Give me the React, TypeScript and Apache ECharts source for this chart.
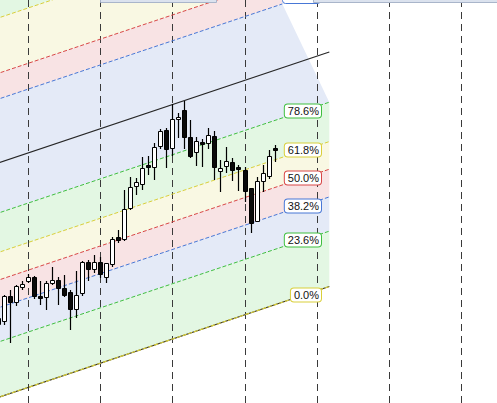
import React, { useEffect, useRef } from 'react';
import * as echarts from 'echarts';

// ---- DATA ----
const opens = [107.9, 108.25, 110.67, 110.13, 111.63, 112.23, 112.57, 110.73, 110.57, 112.0, 112.35, 111.5, 111.1, 109.37, 110.97, 114.07, 113.37, 114.07, 112.63, 113.87, 116.57, 116.45, 119.55, 121.7, 121.87, 123.8, 123.57, 125.7, 127.3, 125.47, 128.37, 129.3, 126.57, 125.07, 126.15, 126.0, 126.7, 123.23, 123.73, 124.07, 123.6, 123.35, 121.47, 118.23, 122.2, 122.73, 125.5];
const closes = [108.5, 110.7, 110.13, 111.7, 111.87, 112.57, 110.7, 110.55, 111.97, 112.35, 111.5, 110.8, 109.37, 110.85, 114.07, 113.37, 114.07, 112.9, 113.97, 116.37, 116.35, 119.37, 121.57, 122.15, 123.47, 123.57, 125.57, 127.2, 125.37, 128.37, 128.57, 126.57, 124.73, 126.23, 125.87, 126.77, 123.57, 123.47, 124.17, 123.35, 123.43, 121.23, 117.97, 122.25, 122.97, 124.67, 125.33];
const lows = [107.7, 107.8, 106.03, 109.7, 111.3, 112.0, 110.45, 109.8, 109.3, 111.8, 109.85, 110.6, 107.3, 108.5, 110.65, 112.2, 113.0, 112.5, 111.97, 113.63, 116.03, 116.2, 119.35, 120.8, 121.3, 122.8, 122.3, 125.43, 123.5, 124.7, 126.5, 125.4, 124.5, 123.73, 123.6, 125.4, 122.3, 121.1, 123.0, 122.2, 121.2, 120.1, 117.05, 118.15, 121.13, 122.4, 124.13];
const highs = [108.7, 110.85, 111.3, 111.8, 112.2, 112.95, 112.7, 112.2, 112.25, 113.65, 112.6, 112.8, 111.3, 113.2, 114.25, 114.3, 114.8, 114.6, 114.05, 116.57, 117.35, 121.3, 122.6, 122.55, 124.6, 124.75, 125.97, 127.43, 127.5, 129.9, 128.97, 130.25, 128.3, 126.6, 126.4, 127.47, 127.2, 124.3, 125.6, 124.5, 123.85, 123.6, 121.55, 122.6, 123.8, 125.35, 125.8];

// Fibonacci channel: base line through two [candle index, price] points, channel height in price
const channelBase = [[-10, 98.54], [55, 111.65]];
const channelHeight = 23.45;
const fibLevels = [0, 23.6, 38.2, 50, 61.8, 78.6, 100, 127.2, 138.2, 161.8];
const fibLineEnds = [55, 55, 55, 55, 55, 55, 55, 47.2, 47.2, 47.2];
const fibLabelShown = [true, true, true, true, true, true, false, true, false, false];
const bandLow = [0, 23.6, 38.2, 50, 61.8, 78.6, 127.2, 138.2, 161.8];
const bandHigh = [23.6, 38.2, 50, 61.8, 78.6, 127.2, 138.2, 161.8, 200];
const bandLowEnd = [55, 55, 55, 55, 55, 55, 47.2, 47.2, 47.2];
const bandHighEnd = [55, 55, 55, 55, 55, 47.2, 47.2, 47.2, 47.2];
const gridLines = [5, 17, 29, 41, 53, 65, 77];

// ---- STYLE ----
const X_MIN = 0.299;
const X_MAX = 82.86;
const Y_MIN = 100;
const Y_MAX = 140.3;
const LABEL_RIGHT_V = 53.55;
const LABEL_CENTER_V = 50.6;

const GREEN = '#3fbf3f';
const BLUE = '#4777d6';
const RED = '#d84646';
const YELLOW = '#d9cf3a';
const fills: Record<string, string> = {
  green: '#e3f7e3',
  blue: '#e4eaf7',
  pink: '#f8e3e4',
  yellow: '#f9f8e3',
};
const bandFill = (lo: number) => {
  if (lo === 0 || lo === 61.8 || lo === 161.8) return fills.green;
  if (lo === 23.6 || lo === 78.6) return fills.blue;
  if (lo === 38.2 || lo === 127.2) return fills.pink;
  return fills.yellow;
};
const levelColor = (lv: number) => {
  if (lv === 23.6 || lv === 78.6) return GREEN;
  if (lv === 38.2 || lv === 127.2) return BLUE;
  if (lv === 50 || lv === 138.2) return RED;
  if (lv === 100) return '#222';
  return YELLOW;
};

const slope = (channelBase[1][1] - channelBase[0][1]) / (channelBase[1][0] - channelBase[0][0]);
const priceAt = (v: number, lv: number) =>
  channelBase[0][1] + (v - channelBase[0][0]) * slope + (lv / 100) * channelHeight;
const V0 = channelBase[0][0];

export default function App() {
  const ref = useRef<HTMLDivElement>(null);
  useEffect(() => {
    const chart = echarts.init(ref.current!, undefined, { renderer: 'svg' });
    const option: any = {
      animation: false,
      grid: { left: 0, right: 0, top: 0, bottom: 0 },
      xAxis: { type: 'value', min: X_MIN, max: X_MAX, show: false },
      yAxis: { type: 'value', min: Y_MIN, max: Y_MAX, show: false },
      graphic: [
        { type: 'rect', shape: { x: 100.5, y: -5, width: 116, height: 7.5 }, style: { fill: '#dbe2ee', stroke: '#a9b5ca', lineWidth: 1 }, z: 100 },
        { type: 'rect', shape: { x: 313.5, y: -5, width: 190, height: 7.5 }, style: { fill: '#dbe2ee', stroke: '#a9b5ca', lineWidth: 1 }, z: 100 },
      ],
      series: [
        {
          type: 'custom',
          z: 1,
          silent: true,
          data: bandLow.map((lo, i) => [bandLowEnd[i], lo]),
          renderItem: (params: any, api: any) => {
            const i = params.dataIndex;
            const lo = bandLow[i];
            const hi = bandHigh[i];
            const pts = [
              api.coord([V0, priceAt(V0, lo)]),
              api.coord([bandLowEnd[i], priceAt(bandLowEnd[i], lo)]),
              api.coord([bandHighEnd[i], priceAt(bandHighEnd[i], hi)]),
              api.coord([V0, priceAt(V0, hi)]),
            ];
            return { type: 'polygon', shape: { points: pts }, style: { fill: bandFill(lo), stroke: null } };
          },
        },
        {
          type: 'custom',
          z: 2,
          silent: true,
          data: gridLines.map((v) => [v, 120]),
          renderItem: (params: any, api: any) => {
            const cs = params.coordSys;
            const x = Math.floor(api.coord([api.value(0), 120])[0]) + 0.5;
            return {
              type: 'line',
              shape: { x1: x, y1: cs.y, x2: x, y2: cs.y + cs.height },
              style: { stroke: '#3a3a3a', lineWidth: 1, lineDash: [7, 5] },
            };
          },
        },
        {
          type: 'custom',
          z: 3,
          silent: true,
          data: fibLevels.map((lv, i) => [fibLineEnds[i], lv]),
          renderItem: (params: any, api: any) => {
            const i = params.dataIndex;
            const lv = fibLevels[i];
            const a = api.coord([V0, priceAt(V0, lv)]);
            const b = api.coord([fibLineEnds[i], priceAt(fibLineEnds[i], lv)]);
            const children: any[] = [];
            if (lv === 0) {
              children.push({ type: 'line', shape: { x1: a[0], y1: a[1], x2: b[0], y2: b[1] }, style: { stroke: '#3b3520', lineWidth: 1.2 } });
              children.push({ type: 'line', shape: { x1: a[0], y1: a[1], x2: b[0], y2: b[1] }, style: { stroke: YELLOW, lineWidth: 1.2, lineDash: [4, 2] } });
            } else if (lv === 100) {
              children.push({ type: 'line', shape: { x1: a[0], y1: a[1], x2: b[0], y2: b[1] }, style: { stroke: '#262626', lineWidth: 1.2 } });
            } else {
              children.push({ type: 'line', shape: { x1: a[0], y1: a[1], x2: b[0], y2: b[1] }, style: { stroke: levelColor(lv), lineWidth: 1, lineDash: [4, 2] } });
            }
            return { type: 'group', children };
          },
        },
        {
          type: 'custom',
          z: 4,
          silent: true,
          data: opens.map((o, k) => [k, o, closes[k], lows[k], highs[k]]),
          renderItem: (params: any, api: any) => {
            const k = api.value(0);
            const o = api.value(1);
            const c = api.value(2);
            const l = api.value(3);
            const h = api.value(4);
            const pO = api.coord([k, o]);
            const pC = api.coord([k, c]);
            const pL = api.coord([k, l]);
            const pH = api.coord([k, h]);
            const cx = Math.floor(pO[0]);
            const top = Math.round(Math.min(pO[1], pC[1])) + 0.5;
            let bot = Math.round(Math.max(pO[1], pC[1])) + 0.5;
            if (bot - top < 2) bot = top + 2;
            const up = c >= o;
            return {
              type: 'group',
              children: [
                { type: 'line', shape: { x1: cx + 0.5, y1: Math.round(pH[1]), x2: cx + 0.5, y2: Math.round(pL[1]) }, style: { stroke: '#000', lineWidth: 1.2 } },
                { type: 'rect', shape: { x: cx - 1.5, y: top, width: 4, height: bot - top }, style: { fill: up ? '#fff' : '#0a0a0a', stroke: '#000', lineWidth: 1 } },
              ],
            };
          },
        },
        {
          type: 'custom',
          z: 5,
          silent: true,
          data: fibLevels.map((lv, i) => [LABEL_CENTER_V, lv]),
          renderItem: (params: any, api: any) => {
            const i = params.dataIndex;
            const lv = fibLevels[i];
            if (!fibLabelShown[i]) return { type: 'group', children: [] };
            const xr = api.coord([LABEL_RIGHT_V, Y_MIN])[0];
            const yc = api.coord([LABEL_CENTER_V, priceAt(LABEL_CENTER_V, lv)])[1];
            if (lv > 100) {
              // label box of this level lies above the visible area; only its lower edge shows
              return {
                type: 'rect',
                shape: { x: Math.round(xr) - 38.5, y: Math.round(yc) - 6.5, width: 38, height: 13, r: 3 },
                style: { fill: '#fff', stroke: levelColor(lv), lineWidth: 1 },
              };
            }
            return {
              type: 'text',
              x: Math.round(xr),
              y: Math.round(yc),
              style: {
                text: lv.toFixed(1) + '%',
                align: 'right',
                verticalAlign: 'middle',
                fontFamily: 'Liberation Sans, Arial, sans-serif',
                fontSize: 11,
                fill: '#111',
                backgroundColor: '#fff',
                borderColor: levelColor(lv),
                borderWidth: 1,
                borderRadius: 3,
                padding: [1, 2, 1, 3],
              },
            };
          },
        },
      ],
    };
    chart.setOption(option);
    return () => chart.dispose();
  }, []);
  return (
    <div
      ref={ref}
      style={{ position: 'fixed', left: 0, top: 0, width: 497, height: 403, background: '#fff' }}
    />
  );
}
